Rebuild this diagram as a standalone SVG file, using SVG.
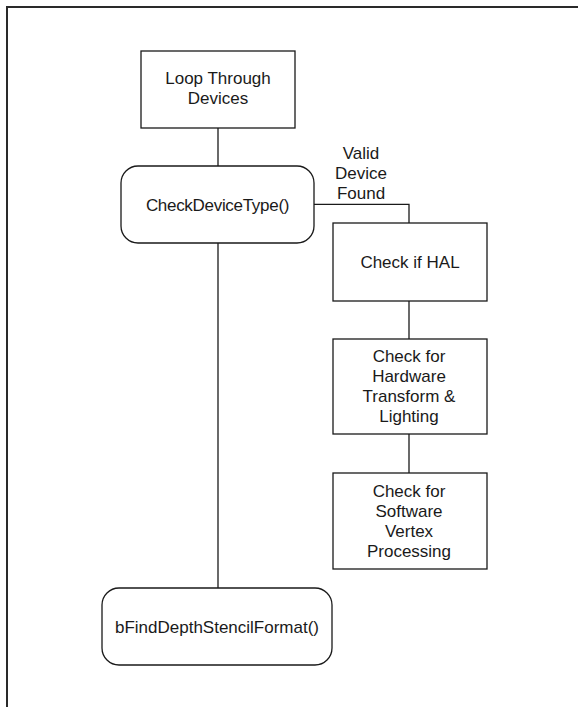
<svg xmlns="http://www.w3.org/2000/svg" width="578" height="707" viewBox="0 0 578 707">
<style>
.box{fill:#fff;stroke:#1a1a1a;stroke-width:1.3}
.ln{fill:none;stroke:#1a1a1a;stroke-width:1.3}
.frame{fill:none;stroke:#2a2a2a;stroke-width:2}
text{font-family:"Liberation Sans",Arial,sans-serif;font-size:17px;fill:#1a1a1a;text-anchor:middle}
</style>
<rect width="578" height="707" fill="#fff"/>
<path class="frame" d="M7,707 V7 H578"/>
<g id="connectors">
<line class="ln" x1="218" y1="128" x2="218" y2="166"/>
<line class="ln" x1="218" y1="243" x2="218" y2="588"/>
<polyline class="ln" points="314,204.3 409,204.3 409,223"/>
<line class="ln" x1="409" y1="301" x2="409" y2="339"/>
<line class="ln" x1="409" y1="434" x2="409" y2="473"/>
</g>
<g id="label-valid">
<text x="361" y="159">Valid</text>
<text x="361" y="179">Device</text>
<text x="361" y="199">Found</text>
</g>
<g id="loop">
<rect class="box" x="141" y="51" width="154" height="77"/>
<text x="218" y="84">Loop Through</text>
<text x="218" y="104">Devices</text>
</g>
<g id="checkdevicetype">
<rect class="box" x="121" y="166" width="193" height="77" rx="17"/>
<text x="217.5" y="211" letter-spacing="-0.3">CheckDeviceType()</text>
</g>
<g id="hal">
<rect class="box" x="333" y="223" width="154" height="78"/>
<text x="410" y="267.5">Check if HAL</text>
</g>
<g id="hwtl">
<rect class="box" x="333" y="339" width="154" height="95"/>
<text x="409" y="361.5">Check for</text>
<text x="409" y="381.5">Hardware</text>
<text x="409" y="401.5">Transform &amp;</text>
<text x="409" y="421.5">Lighting</text>
</g>
<g id="swvp">
<rect class="box" x="333" y="473" width="154" height="96"/>
<text x="409" y="496.5">Check for</text>
<text x="409" y="516.5">Software</text>
<text x="409" y="536.5">Vertex</text>
<text x="409" y="556.5">Processing</text>
</g>
<g id="bfind">
<rect class="box" x="102" y="588" width="230" height="77" rx="17"/>
<text x="217" y="633">bFindDepthStencilFormat()</text>
</g>
</svg>
